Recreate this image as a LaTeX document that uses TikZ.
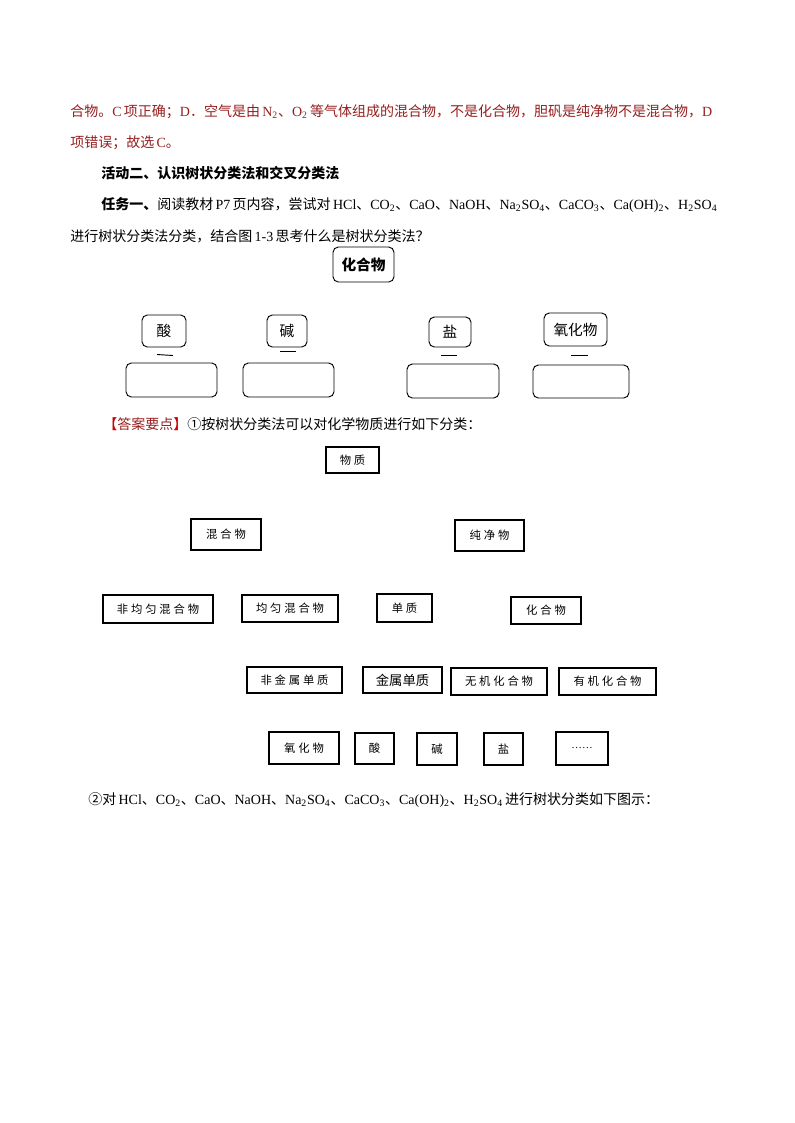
\documentclass[tikz,border=0pt]{standalone}
\usepackage{fontspec}
\usepackage{tikz}
\setmainfont{Liberation Serif}
\newfontfamily\cjkfont{Noto Sans CJK SC}
\newfontfamily\cjkboxfont[LetterSpace=25]{Noto Sans CJK SC}
\newcommand\zh[1]{{\cjkfont #1}}
\newcommand\chemlist{HCl\zh{、}CO\textsubscript{2}\zh{、}CaO\zh{、}NaOH\zh{、}Na\textsubscript{2}SO\textsubscript{4}\zh{、}CaCO\textsubscript{3}\zh{、}Ca(OH)\textsubscript{2}\zh{、}H\textsubscript{2}SO\textsubscript{4}}
\definecolor{ansred}{RGB}{204,0,0}
\definecolor{darkred}{RGB}{150,30,30}

\begin{document}
\begin{tikzpicture}[
        x=0.75pt, y=-0.75pt,
        wh/.style 2 args={minimum width=#1*0.75pt, minimum height=#2*0.75pt},
        para/.style={font=\fontsize{10.5pt}{13pt}\selectfont, anchor=west, inner sep=0pt},
        redpara/.style={para, text=darkred},
        blank/.style={draw, rounded corners=4pt, line width=0.7pt, inner sep=0pt, font=\cjkfont\fontsize{11pt}{13pt}\selectfont},
        kind/.style={draw, line width=0.9pt, inner sep=0pt, font=\cjkboxfont\fontsize{8.5pt}{10pt}\selectfont}
    ]
        \useasboundingbox (0,0) rectangle (794,1123);

        % Text above the task
        \node[redpara] (l1) at (70,112) {\zh{合物。}C\,\zh{项正确；}D\zh{．空气是由}\,N\textsubscript{2}\zh{、}O\textsubscript{2}\,\zh{等气体组成的混合物，不是化合物，胆矾是纯净物不是混合物，}D};
        \node[redpara] (l2) at (70,143) {\zh{项错误；故选}\,C\zh{。}};
        \node[para] (l3) at (101,173) {\cjkfont\bfseries 活动二、认识树状分类法和交叉分类法};
        \node[para] (l4) at (101,205) {{\cjkfont\bfseries 任务一、}\zh{阅读教材}\,P7\,\zh{页内容，尝试对}\,\chemlist};
        \node[para] (l5) at (70,236) {\zh{进行树状分类法分类，结合图}\,1-3\,\zh{思考什么是树状分类法？}};

        % Blank tree
        \node[blank, font=\cjkfont\bfseries\fontsize{11pt}{13pt}\selectfont, wh={61}{35}] (hhw) at (363.5,264.5) {化合物};
        \node[blank, wh={44}{32}] (suan) at (164,331) {酸};
        \node[blank, wh={40}{32}] (jian) at (287,331) {碱};
        \node[blank, wh={42}{30}] (yan) at (450,332) {盐};
        \node[blank, wh={63}{33}] (yhw) at (575.5,329.5) {氧化物};
        \draw[line width=0.7pt] (157,354.5) -- (173,355.5);
        \draw[line width=0.7pt] (280,351) -- (296,351);
        \draw[line width=0.7pt] (441,355) -- (457,355);
        \draw[line width=0.7pt] (571,355) -- (588,355);
        \node[blank, wh={91}{34}] (e1) at (171.5,380) {};
        \node[blank, wh={91}{34}] (e2) at (288.5,380) {};
        \node[blank, wh={92}{34}] (e3) at (453,381) {};
        \node[blank, wh={96}{33}] (e4) at (581,381.5) {};

        % Answer
        \node[para] (l6) at (103,424) {{\cjkfont\color{ansred}【}{\cjkfont\color{darkred}答案要点}{\cjkfont\color{ansred}】}\zh{①按树状分类法可以对化学物质进行如下分类：}};

        % Classification tree
        \node[kind, wh={53}{26}] (wz) at (352.5,460) {物质};
        \node[kind, wh={70}{31}] (hhwA) at (226,534.5) {混合物};
        \node[kind, wh={69}{31}] (cjw) at (489.5,535.5) {纯净物};
        \node[kind, wh={110}{28}] (fjy) at (158,609) {非均匀混合物};
        \node[kind, wh={96}{27}] (jy) at (290,608.5) {均匀混合物};
        \node[kind, wh={55}{28}] (dz) at (404.5,608) {单质};
        \node[kind, wh={70}{27}] (hhwB) at (546,610.5) {化合物};
        \node[kind, wh={95}{26}] (fjs) at (294.5,680) {非金属单质};
        \node[kind, font=\cjkfont\fontsize{10pt}{12pt}\selectfont, wh={79}{26}] (js) at (402.5,680) {金属单质};
        \node[kind, wh={96}{27}] (wj) at (499,681.5) {无机化合物};
        \node[kind, wh={97}{27}] (yj) at (607.5,681.5) {有机化合物};
        \node[kind, wh={70}{32}] (yhwB) at (304,748) {氧化物};
        \node[kind, wh={39}{31}] (suanB) at (374.5,748.5) {酸};
        \node[kind, wh={40}{32}] (jianB) at (437,749) {碱};
        \node[kind, wh={39}{32}] (yanB) at (503.5,749) {盐};
        \node[kind, font=\fontsize{8pt}{10pt}\selectfont, wh={52}{33}] (more) at (582,748.5) {\ldots\ldots};

        \node[para] (l7) at (88,800) {\zh{②对}\,\chemlist\,\zh{进行树状分类如下图示：}};
    \end{tikzpicture}
\end{document}
